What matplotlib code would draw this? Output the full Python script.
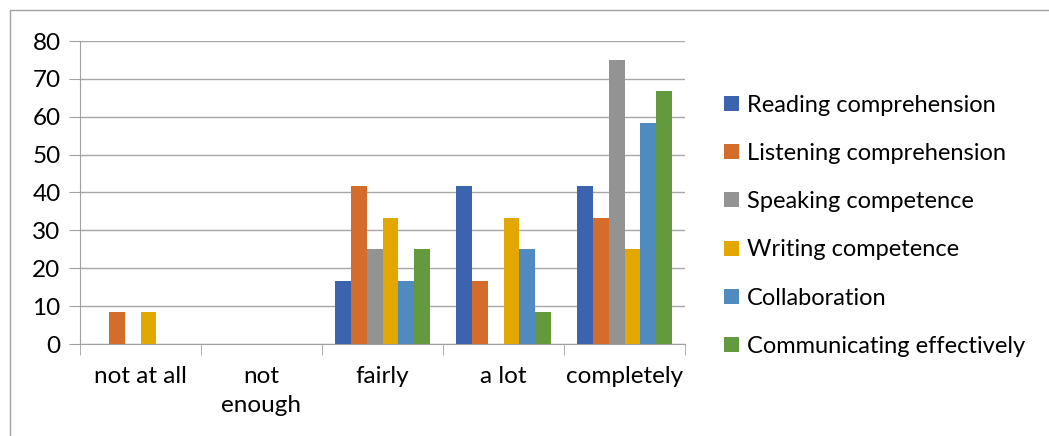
import numpy as np
import matplotlib.pyplot as plt
from matplotlib.patches import Rectangle

plt.rcParams['font.family'] = ['Lato', 'DejaVu Sans']

categories = ['not at all', 'not\nenough', 'fairly', 'a lot', 'completely']
series = ['Reading comprehension', 'Listening comprehension', 'Speaking competence',
          'Writing competence', 'Collaboration', 'Communicating effectively']
reading = [0, 0, 16.67, 41.67, 41.67]
listening = [8.33, 0, 41.67, 16.67, 33.33]
speaking = [0, 0, 25, 0, 75]
writing = [8.33, 0, 33.33, 33.33, 25]
collaboration = [0, 0, 16.67, 25, 58.33]
communicating = [0, 0, 25, 8.33, 66.67]
values = [reading, listening, speaking, writing, collaboration, communicating]
colors = ['#3C64AE', '#D46D2B', '#939393', '#E2A800', '#4F8BBF', '#639A3E']

fig = plt.figure(figsize=(10.49, 4.36), dpi=100)
ax = fig.add_axes([80/1049, 92/436, 605/1049, 303/436])

x = np.arange(len(categories))
w = 0.132
for i, (name, vals) in enumerate(zip(series, values)):
    ax.bar(x + (i - 2.5) * w, vals, w, color=colors[i], label=name, zorder=3)

ax.set_xlim(-0.5, len(categories) - 0.5)
ax.set_ylim(0, 80)
ax.set_yticks(range(0, 81, 10))
ax.tick_params(axis='y', length=8, color='#A0A0A0', labelsize=17.5, pad=6)
ax.grid(axis='y', color='#A6A6A6', lw=1, zorder=0)
ax.set_xticks(x)
ax.set_xticklabels(categories, fontsize=17.5, linespacing=1.45)
ax.tick_params(axis='x', length=0, pad=16)
ax.set_xticks(np.arange(-0.5, len(categories)), minor=True)
ax.tick_params(axis='x', which='minor', length=8, color='#A0A0A0')
for s in ['top', 'right']:
    ax.spines[s].set_visible(False)
for s in ['left', 'bottom']:
    ax.spines[s].set_color('#A0A0A0')

ax.legend(loc='center left', bbox_to_anchor=(1.03, 0.39), frameon=False, fontsize=17,
          handlelength=0.6, handleheight=0.6, handletextpad=0.35, labelspacing=1.15)

fig.patches.append(Rectangle((10/1049, -0.1), 1.2, 1 - 10/436 + 0.1, transform=fig.transFigure,
                             fill=False, edgecolor='#A0A0A0', lw=1))

fig.savefig('out.png', dpi=100)
